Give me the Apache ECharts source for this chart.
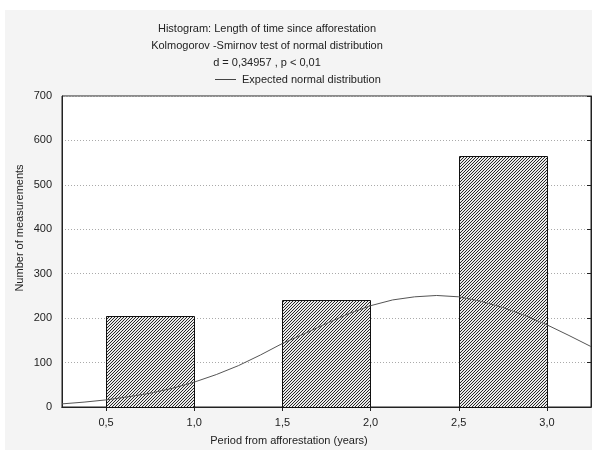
<!DOCTYPE html>
<html><head><meta charset="utf-8">
<script src="https://cdn.jsdelivr.net/npm/echarts@6/dist/echarts.min.js"></script>
<style>html,body{margin:0;padding:0;background:#fff}#c{width:592px;height:450px}</style>
</head><body><div id="c"></div>
<script>
// Histogram bins (years since afforestation) and counts
const binStarts = [0.5, 1.5, 2.5];
const binEnds = [1.0, 2.0, 3.0];
const counts = [205, 240, 565];
// Expected normal distribution curve
const curveX = [0.25, 0.375, 0.5, 0.625, 0.75, 0.875, 1.0, 1.125, 1.25, 1.375, 1.5, 1.625, 1.75, 1.875, 2.0, 2.125, 2.25, 2.375, 2.5, 2.625, 2.75, 2.875, 3.0, 3.125, 3.25];
const curveY = [7, 11, 16, 23, 31, 42, 56, 73, 93, 117, 143, 165, 188, 210, 228, 241, 248, 251, 248, 238, 224, 206, 185, 161, 136];
const xTicks = [0.5, 1.0, 1.5, 2.0, 2.5, 3.0];
const titleLines = ['Histogram: Length of time since afforestation', 'Kolmogorov -Smirnov test of normal distribution', 'd = 0,34957 , p < 0,01'];
const legendName = 'Expected normal distribution';

function hatch() {
  const n = 3;
  const c = document.createElement('canvas');
  c.width = n; c.height = n;
  const g = c.getContext('2d');
  const img = g.createImageData(n, n);
  for (let y = 0; y < n; y++) for (let x = 0; x < n; x++) {
    const on = (x + y) % n === n - 1;
    const v = on ? 40 : 235;
    const k = (y * n + x) * 4;
    img.data[k] = v; img.data[k + 1] = v; img.data[k + 2] = v; img.data[k + 3] = 255;
  }
  g.putImageData(img, 0, 0);
  return c;
}
const pattern = {image: hatch(), repeat: 'repeat'};
const FONT = 'Liberation Sans, Arial, sans-serif';
const chart = echarts.init(document.getElementById('c'));
const fmt = v => v.toFixed(1).replace('.', ',');
chart.setOption({
  animation: false,
  backgroundColor: '#ffffff',
  textStyle: {fontFamily: FONT},
  title: {
    text: titleLines.join('\n'), left: 262, top: 15, textAlign: 'center',
    textStyle: {fontSize: 11, fontWeight: 'normal', color: '#222', lineHeight: 17, fontFamily: FONT}
  },
  graphic: [
    {type: 'rect', shape: {x: 5, y: 10, width: 600, height: 460}, style: {fill: '#f4f4f4'}, z: -10, silent: true},
    {type: 'line', shape: {x1: 215, y1: 79.5, x2: 236, y2: 79.5}, style: {stroke: '#444', lineWidth: 1}},
    {type: 'text', x: 242, y: 80, style: {text: legendName, fontSize: 11, fill: '#222', fontFamily: FONT, align: 'left', verticalAlign: 'middle'}},
    {type: 'text', x: 20, y: 228, rotation: Math.PI / 2, style: {text: 'Number of measurements', fontSize: 11, fill: '#222', fontFamily: FONT, align: 'center', verticalAlign: 'middle'}},
    {type: 'text', x: 289, y: 441, style: {text: 'Period from afforestation (years)', fontSize: 11, fill: '#222', fontFamily: FONT, align: 'center', verticalAlign: 'middle'}}
  ],
  grid: {left: 62, top: 96, right: 1, bottom: 43, show: true, backgroundColor: '#ffffff', borderColor: '#222', borderWidth: 1},
  xAxis: [{
    type: 'value', min: 0.25, max: 3.25, position: 'bottom',
    axisLine: {show: true, onZero: false, lineStyle: {color: '#222'}},
    axisTick: {show: false},
    axisLabel: {customValues: xTicks, formatter: fmt, fontSize: 11, color: '#222', margin: 10},
    splitLine: {show: false}
  }, {
    type: 'value', min: 0.25, max: 3.25, position: 'top',
    axisLine: {show: true, lineStyle: {color: '#222'}},
    axisTick: {show: true, inside: true, length: 4, customValues: xTicks, lineStyle: {color: '#222'}},
    axisLabel: {show: false}, splitLine: {show: false}
  }],
  yAxis: [{
    type: 'value', min: 0, max: 700, interval: 100, position: 'left',
    axisLine: {show: true, lineStyle: {color: '#222'}},
    axisTick: {show: false},
    axisLabel: {fontSize: 11, color: '#222', margin: 10},
    splitLine: {show: true, lineStyle: {color: '#aaa', type: [1, 2], width: 1}}
  }, {
    type: 'value', min: 0, max: 700, interval: 100, position: 'right',
    axisLine: {show: true, lineStyle: {color: '#222'}},
    axisTick: {show: true, inside: true, length: 4, lineStyle: {color: '#222'}},
    axisLabel: {show: false}, splitLine: {show: false}
  }],
  series: [{
    type: 'custom', name: 'bins', xAxisIndex: 0, yAxisIndex: 0,
    data: counts.map((c, i) => [binStarts[i], binEnds[i], c]),
    renderItem: (params, api) => {
      const p0 = api.coord([api.value(0), 0]);
      const p1 = api.coord([api.value(1), api.value(2)]);
      return {type: 'rect', shape: {x: Math.round(p0[0]) + 0.5, y: Math.round(p1[1]) + 0.5, width: Math.round(p1[0] - p0[0]), height: Math.round(p0[1] - p1[1])},
        style: {fill: pattern, stroke: '#111', lineWidth: 1}};
    },
    z: 2
  }, {
    type: 'line', name: legendName, xAxisIndex: 0, yAxisIndex: 0,
    data: curveX.map((x, i) => [x, curveY[i]]), smooth: false, symbol: 'none',
    lineStyle: {color: '#555', width: 1}, itemStyle: {color: '#555'}, z: 3
  }]
});
</script></body></html>
